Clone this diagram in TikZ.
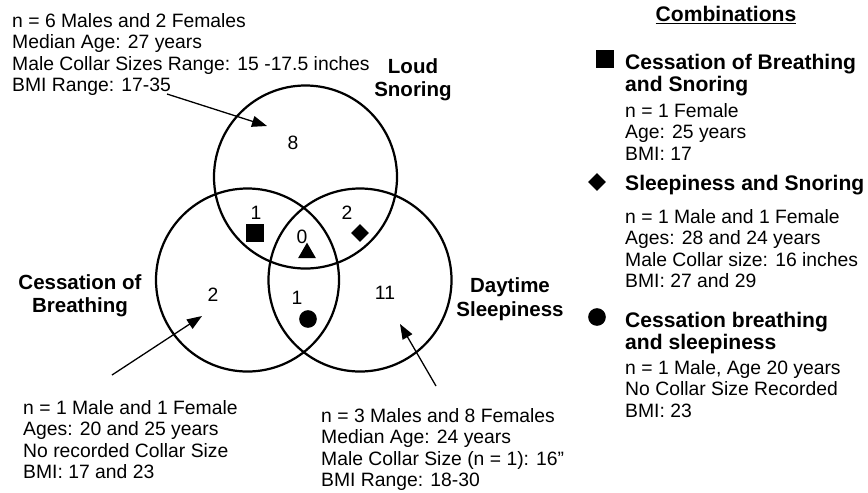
\documentclass[tikz,border=0pt]{standalone}
\usepackage{fontspec}
\setmainfont{Liberation Sans}
\usetikzlibrary{positioning,arrows.meta,shapes.geometric}
\newcommand{\infosize}{\fontsize{16.5}{18.3}\selectfont}
\newcommand{\labsize}{\fontsize{17.5}{20}\selectfont\bfseries}
\newcommand{\headsize}{\fontsize{18}{19}\selectfont\bfseries}

\begin{document}
\begin{tikzpicture}[
  x=0.03cm, y=-0.03cm,
  >={Triangle[length=4.5mm,width=3.3mm]},
  venn/.style={draw, circle, line width=1.9pt, minimum size=5.49cm, inner sep=0},
  info/.style={anchor=north west, align=left, inner sep=0, font=\infosize},
  setlab/.style={align=center, inner sep=0, font=\labsize},
  head/.style={anchor=north west, align=left, inner sep=0, font=\headsize},
  count/.style={inner sep=0, font=\infosize},
  sqmark/.style={fill, minimum size=5.4mm, inner sep=0},
  dimark/.style={diamond, fill, minimum size=5.4mm, inner sep=0},
  trimark/.style={regular polygon, regular polygon sides=3, fill, minimum size=6.2mm, inner sep=0},
  dotmark/.style={circle, fill, minimum size=5.3mm, inner sep=0},
  pointer/.style={->, line width=1.1pt}
]
\useasboundingbox (0,0) rectangle (868,492);

% the three sets
\node[venn] (snore) at (305.5,177) {};
\node[venn] (breath) at (247.5,280) {};
\node[venn] (sleep) at (360,280) {};

\node[setlab] (snorelab) at (413,80) {Loud\\Snoring};
\node[setlab] (breathlab) at (80,296) {Cessation of\\Breathing};
\node[setlab] (sleeplab) at (510,299) {Daytime\\Sleepiness};

% counts and markers
\node[count] (nsnore) at (293,143) {8};
\node[count] (nbs) at (256,213) {1};
\node[sqmark] (mbs) at (255,233) {};
\node[count] (nall) at (302,237) {0};
\node[trimark] (mall) at (307,253) {};
\node[count] (nss) at (347,213) {2};
\node[dimark] (mss) at (360,233) {};
\node[count] (nbreath) at (213,295) {2};
\node[count] (nbsl) at (297,298) {1};
\node[dotmark] (mbsl) at (308,319) {};
\node[count] (nsleep) at (385,293) {11};

% descriptions
\node[info] (snoreinfo) at (12,13) {n = 6 Males and 2 Females\\Median Age: 27 years\\Male Collar Sizes Range: 15 -17.5 inches\\BMI Range: 17-35};
\node[info] (breathinfo) at (23,400) {n = 1 Male and 1 Female\\Ages: 20 and 25 years\\No recorded Collar Size\\BMI: 17 and 23};
\node[info] (sleepinfo) at (321,408) {n = 3 Males and 8 Females\\Median Age: 24 years\\Male Collar Size (n = 1): 16”\\BMI Range: 18-30};

\coordinate (snoretail) at (167,94);
\coordinate (snoretip) at (267,126);
\coordinate (breathtail) at (112,375);
\coordinate (breathtip) at (202,316);
\coordinate (sleeptail) at (436,386);
\coordinate (sleeptip) at (400,324);
\draw[pointer] (snoretail) -- (snoretip);
\draw[pointer] (breathtail) -- (breathtip);
\draw[pointer] (sleeptail) -- (sleeptip);

% combinations
\node[font=\headsize, inner sep=0] (combo) at (726,15) {\underline{Combinations}};
\node[sqmark] (keybs) at (605,59) {};
\node[head] (combobs) at (625,54) {Cessation of Breathing\\and Snoring};
\node[info] (combobsinfo) at (625,103) {n = 1 Female\\Age: 25 years\\BMI: 17};
\node[dimark] (keyss) at (597,182) {};
\node[head] (comboss) at (625,175) {Sleepiness and Snoring};
\node[info] (combossinfo) at (625,209) {n = 1 Male and 1 Female\\Ages: 28 and 24 years\\Male Collar size: 16 inches\\BMI: 27 and 29};
\node[dotmark] (keybsl) at (597,317) {};
\node[head] (combobsl) at (625,312) {Cessation breathing\\and sleepiness};
\node[info] (combobslinfo) at (625,360) {n = 1 Male, Age 20 years\\No Collar Size Recorded\\BMI: 23};
\end{tikzpicture}
\end{document}
